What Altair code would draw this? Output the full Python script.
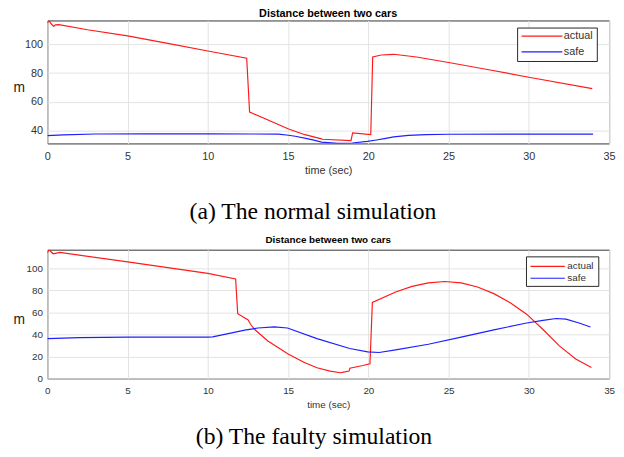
import altair as alt
import pandas as pd

TITLE = "Distance between two cars"
SERIES = ["actual", "safe"]
COLORS = ["#ff1a1a", "#1f1fff"]
X_TICKS = [0, 5, 10, 15, 20, 25, 30, 35]
CAPTIONS = ["(a) The normal simulation", "(b) The faulty simulation"]

# (a) normal simulation
A_ACT_T = [0, 0.1, 0.25, 0.4, 0.5, 0.72, 2.5, 5, 7.5, 10, 12.42, 12.6, 15.03, 16.05,
           17.08, 17.12, 18.92, 19.02, 20.15, 20.27, 20.8, 21.58, 23, 25, 27.5, 30, 33.95]
A_ACT_Y = [115, 116.6, 114.2, 112.6, 113.6, 113.8, 110.2, 105.9, 100.7, 95.4, 90.4, 52.8, 41, 37,
           34.1, 33.8, 32.9, 38.2, 37.0, 91.3, 92.6, 93.1, 91.2, 87.4, 82.3, 77.1, 69.1]
A_SAFE_T = [0, 1, 3, 6, 10, 14.4, 15.03, 15.44, 16.1, 16.67, 17.08, 18.1, 19, 19.94, 20.5,
            21, 21.58, 22.5, 23.6, 25, 30, 34]
A_SAFE_Y = [36.4, 36.9, 37.5, 37.6, 37.6, 37.4, 36.6, 35.9, 34.4, 33.0, 31.8, 30.95, 31.2, 32.3, 33.3,
            34.3, 35.5, 36.5, 37.0, 37.3, 37.4, 37.4]
A_Y_TICKS = [40, 60, 80, 100]
A_Y_DOMAIN = [30.9, 116.7]

# (b) faulty simulation
B_ACT_T = [0, 0.1, 0.36, 0.77, 5, 10, 11.73, 11.86, 12.51, 12.65, 12.92, 13.74, 15, 15.98,
           16.8, 17.61, 18.27, 18.45, 18.8, 18.85, 19.66, 20.1, 20.25, 21.7, 22.72, 23.74, 24.76,
           25.78, 26.8, 27.82, 28.84, 29.86, 30.88, 31.9, 32.92, 33.9]
B_ACT_Y = [114, 116.6, 113, 114.2, 105.7, 95.3, 90.2, 58.8, 53.0, 49.4, 44.4, 34, 22.2, 14.8,
           9.8, 6.8, 5.3, 5.9, 6.8, 9.4, 11.8, 13.3, 69.0, 78.4, 83.5, 86.7, 87.9,
           86.7, 82.9, 76.9, 68.6, 58.3, 44.4, 29.6, 17.8, 10.0]
B_SAFE_T = [0, 2, 5, 10, 10.3, 11.49, 12.3, 13.12, 14.14, 14.96, 16.8, 18.84, 19.96, 20.67,
            21.7, 23.74, 25.78, 27.82, 29.86, 30.88, 31.7, 32.31, 33.13, 33.84]
B_SAFE_Y = [36.1, 37.0, 37.6, 37.6, 37.8, 41.4, 43.8, 45.8, 46.8, 45.8, 36.2, 27.2, 24.2, 23.6,
            26.0, 31.1, 37.6, 44.1, 50.3, 52.7, 54.4, 53.8, 50.3, 46.7]
B_Y_TICKS = [0, 20, 40, 60, 80, 100]
B_Y_DOMAIN = [0, 116.7]

SANS = "Liberation Sans"
SERIF = "Liberation Serif"
TXT = "#333333"
GRID = "#e2e2e2"
WIDTH = 571


def series_df(t1, y1, t2, y2):
    return pd.concat([
        pd.DataFrame({"t": t1, "d": y1, "s": SERIES[0]}),
        pd.DataFrame({"t": t2, "d": y2, "s": SERIES[1]}),
    ], ignore_index=True)


def panel(df, y_ticks, y_domain, height, caption, cap_x, cap_y, fs, title_offset, leg):
    color = alt.Color("s:N", scale=alt.Scale(domain=SERIES, range=COLORS), legend=None)
    lines = alt.Chart(df).mark_line(strokeWidth=1.2, clip=True).encode(
        x=alt.X("t:Q", scale=alt.Scale(domain=[0, 35], nice=False),
                axis=alt.Axis(values=X_TICKS, title="time (sec)", grid=True, gridColor=GRID,
                              ticks=False, domain=False, labelFont=SANS, labelFontSize=fs,
                              labelColor=TXT, labelPadding=7, labelFlush=False,
                              titleFont=SANS, titleFontSize=fs, titleFontWeight="normal",
                              titleColor=TXT, titlePadding=4)),
        y=alt.Y("d:Q", scale=alt.Scale(domain=y_domain, nice=False, zero=False),
                axis=alt.Axis(values=y_ticks, title="m", grid=True, gridColor=GRID,
                              ticks=False, domain=False, labelFont=SANS, labelFontSize=fs,
                              labelColor=TXT, labelPadding=5,
                              titleFont=SANS, titleFontSize=14, titleFontWeight="normal",
                              titleColor="#222222", titleAngle=0, titleAlign="left",
                              titleBaseline="middle", titleX=-35, titleY=height / 2 + 6)),
        color=color,
    )
    bx0, bx1, by0, by1, lx0, lx1, ly, tx, lfs = leg
    box = alt.Chart(pd.DataFrame({"k": [0]})).mark_rect(
        fill="white", stroke="#262626", strokeWidth=1).encode(
        x=alt.value(bx0), x2=alt.value(bx1), y=alt.value(by0), y2=alt.value(by1))
    layers = [lines, box]
    for name, yy in zip(SERIES, ly):
        one = pd.DataFrame({"s": [name]})
        layers.append(alt.Chart(one).mark_rule(strokeWidth=1.2).encode(
            x=alt.value(lx0), x2=alt.value(lx1), y=alt.value(yy), color=color))
        layers.append(alt.Chart(one).mark_text(
            align="left", baseline="middle", font=SANS, fontSize=lfs, color=TXT).encode(
            x=alt.value(tx), y=alt.value(yy), text="s:N"))
    cap = alt.Chart(pd.DataFrame({"c": [caption]})).mark_text(
        font=SERIF, fontSize=24, color="black", align="center", baseline="middle").encode(
        x=alt.value(cap_x), y=alt.value(cap_y), text="c:N")
    layers.append(cap)
    return alt.layer(*layers).properties(
        width=WIDTH, height=height,
        title=alt.TitleParams(TITLE, font=SANS, fontSize=fs, fontWeight="bold",
                              color="black", offset=title_offset, anchor="middle"))


a = panel(series_df(A_ACT_T, A_ACT_Y, A_SAFE_T, A_SAFE_Y), A_Y_TICKS, A_Y_DOMAIN, 125,
          CAPTIONS[0], 270, 195, 11, 2,
          (478, 559, 7.7, 41.7, 482, 523.5, [16, 32], 525, 11))
b = panel(series_df(B_ACT_T, B_ACT_Y, B_SAFE_T, B_SAFE_Y), B_Y_TICKS, B_Y_DOMAIN, 131,
          CAPTIONS[1], 271, 191, 10, 5,
          (487, 560.5, 7.3, 37.3, 491, 526, [17, 29], 528.5, 10))

chart = alt.vconcat(a, b, spacing=9).properties(
    padding={"left": 4, "top": -5, "right": 0, "bottom": 0}
).configure_view(stroke="#333333", strokeWidth=1)

chart.save("out.html", embed_options={"renderer": "svg", "actions": False})
